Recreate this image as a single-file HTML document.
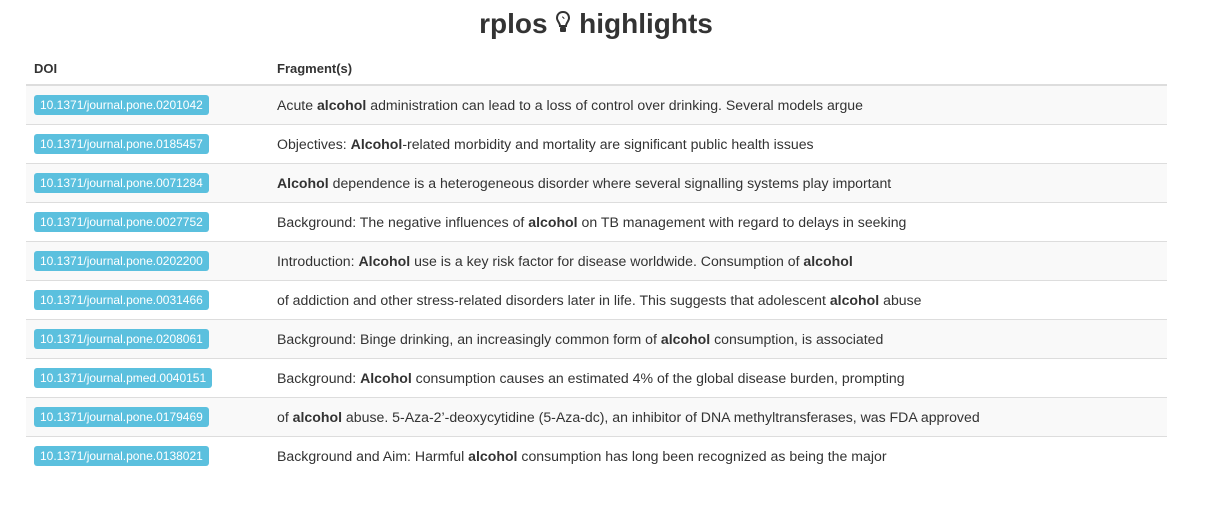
<!DOCTYPE html>
<html><head><meta charset="utf-8"><style>
body{margin:0;background:#fff;font-family:"Liberation Sans",sans-serif;color:#333;width:1207px;height:513px;overflow:hidden}
h1{position:absolute;left:0;width:1192px;top:6px;margin:0;text-align:center;font-size:28px;font-weight:bold;color:#333;line-height:36px}
table{position:absolute;left:26px;top:48px;width:1141px;border-collapse:collapse;font-size:14.1px}
th{text-align:left;font-size:13px;font-weight:bold;height:37px;border-bottom:2px solid #ddd;padding:4px 8px 0 8px;vertical-align:middle;box-sizing:border-box}
td{height:38px;padding:0 8px;border-top:1px solid #ddd;vertical-align:middle;white-space:nowrap}
tr:first-child td{border-top:none}
tbody tr:nth-child(odd){background:#f9f9f9}
.lbl{display:inline-block;background:#5bc0de;color:#fff;font-size:12px;padding:0 6px;height:20px;line-height:20px;border-radius:3px}
td.c1{width:227px}
</style></head><body>
<h1>rplos <svg width="16" height="26" viewBox="0 0 16 26" style="vertical-align:-3px"><path d="M8 2C4 2 2 5 2 8c0 3 3 5 3 8h6c0-3 3-5 3-8 0-3-2-6-6-6z" fill="none" stroke="#333" stroke-width="2"/><rect x="5" y="17" width="6" height="5" rx="1" fill="#333"/><path d="M7 7a2 2 0 0 1 2 2" stroke="#333" fill="none" stroke-width="1"/></svg> highlights</h1>
<table>
<thead><tr><th style="width:227px">DOI</th><th>Fragment(s)</th></tr></thead>
<tbody>
<tr><td class="c1"><span class="lbl">10.1371/journal.pone.0201042</span></td><td>Acute <b>alcohol</b> administration can lead to a loss of control over drinking. Several models argue</td></tr>
<tr><td class="c1"><span class="lbl">10.1371/journal.pone.0185457</span></td><td>Objectives: <b>Alcohol</b>-related morbidity and mortality are significant public health issues</td></tr>
<tr><td class="c1"><span class="lbl">10.1371/journal.pone.0071284</span></td><td><b>Alcohol</b> dependence is a heterogeneous disorder where several signalling systems play important</td></tr>
<tr><td class="c1"><span class="lbl">10.1371/journal.pone.0027752</span></td><td>Background: The negative influences of <b>alcohol</b> on TB management with regard to delays in seeking</td></tr>
<tr><td class="c1"><span class="lbl">10.1371/journal.pone.0202200</span></td><td>Introduction: <b>Alcohol</b> use is a key risk factor for disease worldwide. Consumption of <b>alcohol</b></td></tr>
<tr><td class="c1"><span class="lbl">10.1371/journal.pone.0031466</span></td><td>of addiction and other stress-related disorders later in life. This suggests that adolescent <b>alcohol</b> abuse</td></tr>
<tr><td class="c1"><span class="lbl">10.1371/journal.pone.0208061</span></td><td>Background: Binge drinking, an increasingly common form of <b>alcohol</b> consumption, is associated</td></tr>
<tr><td class="c1"><span class="lbl">10.1371/journal.pmed.0040151</span></td><td>Background: <b>Alcohol</b> consumption causes an estimated 4% of the global disease burden, prompting</td></tr>
<tr><td class="c1"><span class="lbl">10.1371/journal.pone.0179469</span></td><td>of <b>alcohol</b> abuse. 5-Aza-2’-deoxycytidine (5-Aza-dc), an inhibitor of DNA methyltransferases, was FDA approved</td></tr>
<tr><td class="c1"><span class="lbl">10.1371/journal.pone.0138021</span></td><td>Background and Aim: Harmful <b>alcohol</b> consumption has long been recognized as being the major</td></tr>
</tbody></table>
</body></html>
